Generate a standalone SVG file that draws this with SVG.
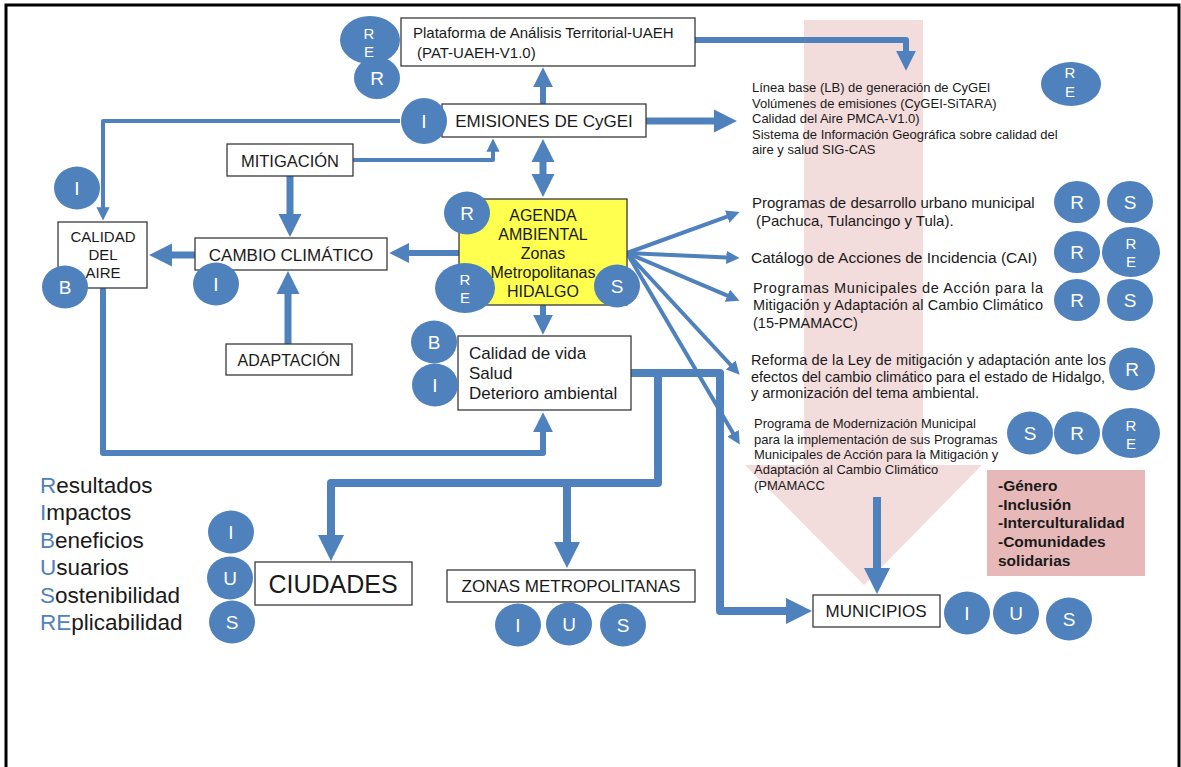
<svg xmlns="http://www.w3.org/2000/svg" width="1181" height="767" viewBox="0 0 1181 767">
<defs>
<marker id="ah" viewBox="0 0 10 10" refX="0.5" refY="5" markerWidth="3.3" markerHeight="3.3" orient="auto-start-reverse" markerUnits="strokeWidth"><path d="M0,0 L10,5 L0,10 z" fill="#4f81bd"/></marker>
<style>
text{font-family:"Liberation Sans",Arial,sans-serif;fill:#1a1a1a}
.box{fill:#fff;stroke:#3a3a3a;stroke-width:1.3}
.c{fill:#4f81bd}
.cl{fill:#fff;font-size:19px;text-anchor:middle}
.cs{fill:#fff;font-size:15px;text-anchor:middle}
.ln{fill:none;stroke:#4f81bd;stroke-linejoin:round;marker-end:url(#ah)}
.w4{stroke-width:4}.w6{stroke-width:6}.w7{stroke-width:7}.w8{stroke-width:8}
.mid{text-anchor:middle}
.b{fill:#4f81bd}
</style>
</defs>
<rect width="1181" height="767" fill="#fff"/>
<rect x="6" y="5" width="1173" height="775" fill="none" stroke="#000" stroke-width="3"/>
<polygon id="bigArrow" points="804,20 923,20 923,465 982,465 864,585 745,465 804,465" fill="#f3dcdc"/>

<g id="connectors">
<path class="ln w6" d="M694,40 H906 V52"/>
<path class="ln w6" d="M543,104 V86"/>
<path class="ln w7" d="M646,121 H715"/>
<path class="ln w7" d="M543,161 V175" style="marker-start:url(#ah)"/>
<path class="ln w4" d="M400,121 H103 V208"/>
<path class="ln w4" d="M353,160 H493 V151"/>
<path class="ln w7" d="M290,176 V215"/>
<path class="ln w7" d="M288,344 V293"/>
<path class="ln w7" d="M195,255 H171"/>
<path class="ln w6" d="M459,253 H408"/>
<path class="ln w6" d="M543,305 V316"/>
<path class="ln w6" d="M103,288 V453 H543 V431"/>
<path class="ln w4" d="M627,253 L727.8,216.4"/>
<path class="ln w4" d="M627,253 L727,257.4"/>
<path class="ln w4" d="M627,253 L728,295.9"/>
<path class="ln w4" d="M627,253 L731.2,365.5"/>
<path class="ln w4" d="M627,253 L733.4,433.8"/>
<path class="ln w8" d="M631,373 H720 V611 H787"/>
<path class="ln w8" d="M658,373 V483 H331 V536"/>
<path class="ln w8" d="M567,483 V543"/>
<path class="ln w8" d="M877,497 V569"/>
</g>

<g id="pat">
<rect class="box" x="401" y="18" width="294" height="48"/>
<text x="413" y="38" font-size="15">Plataforma de Análisis Territorial-UAEH</text>
<text x="417" y="58" font-size="15">(PAT-UAEH-V1.0)</text>
</g>
<g id="emisiones">
<rect class="box" x="442" y="104" width="204" height="33"/>
<text x="544" y="127" font-size="17" class="mid">EMISIONES DE CyGEI</text>
</g>
<g id="mitigacion">
<rect class="box" x="227" y="144" width="126" height="32"/>
<text x="290" y="167" font-size="16.5" class="mid">MITIGACIÓN</text>
</g>
<g id="cambio">
<rect class="box" x="195" y="238" width="192" height="32"/>
<text x="291" y="261" font-size="17" class="mid">CAMBIO CLIMÁTICO</text>
</g>
<g id="adaptacion">
<rect class="box" x="226" y="344" width="126" height="31"/>
<text x="289" y="366" font-size="16" class="mid">ADAPTACIÓN</text>
</g>
<g id="calidadAire">
<rect class="box" x="58" y="222" width="89" height="66"/>
<text x="103" y="242" font-size="15" class="mid">CALIDAD</text>
<text x="103" y="260" font-size="15" class="mid">DEL</text>
<text x="103" y="278" font-size="15" class="mid">AIRE</text>
</g>
<g id="agenda">
<rect x="459" y="199" width="168" height="106" fill="#ffff4f" stroke="#3a3a3a" stroke-width="1.3"/>
<text x="543" y="221" font-size="16" class="mid">AGENDA</text>
<text x="543" y="240" font-size="16" class="mid">AMBIENTAL</text>
<text x="543" y="259" font-size="16" class="mid">Zonas</text>
<text x="543" y="278" font-size="16" class="mid">Metropolitanas</text>
<text x="543" y="297" font-size="16" class="mid">HIDALGO</text>
</g>
<g id="calidadVida">
<rect class="box" x="458" y="336" width="173" height="74"/>
<text x="469" y="359" font-size="17">Calidad de vida</text>
<text x="469" y="379" font-size="17">Salud</text>
<text x="469" y="399" font-size="17">Deterioro ambiental</text>
</g>
<g id="ciudades">
<rect class="box" x="255" y="562" width="157" height="43"/>
<text x="333" y="593" font-size="25" class="mid">CIUDADES</text>
</g>
<g id="zonas">
<rect class="box" x="447" y="570" width="248" height="32"/>
<text x="571" y="592" font-size="17" class="mid">ZONAS METROPOLITANAS</text>
</g>
<g id="municipios">
<rect class="box" x="813" y="595" width="127" height="32"/>
<text x="876" y="617" font-size="17" class="mid">MUNICIPIOS</text>
</g>

<g id="resultadosTop">
<text x="752" y="92" font-size="13">Línea base (LB) de generación de CyGEI</text>
<text x="752" y="107.5" font-size="13">Volúmenes de emisiones (CyGEI-SiTARA)</text>
<text x="752" y="123" font-size="13">Calidad del Aire PMCA-V1.0)</text>
<text x="752" y="139" font-size="13">Sistema de Información Geográfica sobre calidad del</text>
<text x="752" y="154" font-size="13">aire y salud SIG-CAS</text>
</g>
<g id="programasUrbanos">
<text x="752" y="208" font-size="15">Programas de desarrollo urbano municipal</text>
<text x="756" y="226" font-size="15">(Pachuca, Tulancingo y Tula).</text>
</g>
<g id="cai">
<text x="751" y="263" font-size="15.5">Catálogo de Acciones de Incidencia (CAI)</text>
</g>
<g id="pmamacc">
<text x="753" y="293" font-size="14.5" textLength="290" lengthAdjust="spacing">Programas Municipales de Acción para la</text>
<text x="753" y="310" font-size="14.5" textLength="290" lengthAdjust="spacing">Mitigación y Adaptación al Cambio Climático</text>
<text x="753" y="328" font-size="14.5">(15-PMAMACC)</text>
</g>
<g id="reforma">
<text x="751" y="365" font-size="14.5" textLength="355" lengthAdjust="spacing">Reforma de la Ley de mitigación y adaptación ante los</text>
<text x="751" y="382" font-size="14.5" textLength="354" lengthAdjust="spacing">efectos del cambio climático para el estado de Hidalgo,</text>
<text x="751" y="398" font-size="14.5">y armonización del tema ambiental.</text>
</g>
<g id="modernizacion">
<text x="754" y="428" font-size="13">Programa de Modernización Municipal</text>
<text x="754" y="443.5" font-size="13">para la implementación de sus Programas</text>
<text x="754" y="459" font-size="13">Municipales de Acción para la Mitigación y</text>
<text x="754" y="474" font-size="13">Adaptación al Cambio Climático</text>
<text x="754" y="489.5" font-size="13">(PMAMACC</text>
</g>
<g id="enfoques">
<rect x="987" y="470" width="158" height="106" fill="#e6b9b8"/>
<text x="998" y="491" font-size="15.5" font-weight="bold">-Género</text>
<text x="998" y="509.5" font-size="15.5" font-weight="bold">-Inclusión</text>
<text x="998" y="528" font-size="15.5" font-weight="bold">-Interculturalidad</text>
<text x="998" y="547" font-size="15.5" font-weight="bold">-Comunidades</text>
<text x="998" y="566" font-size="15.5" font-weight="bold">solidarias</text>
</g>
<g id="leyenda" font-size="22.5">
<text x="40" y="493" font-size="22.5"><tspan class="b">R</tspan>esultados</text>
<text x="40" y="520" font-size="22.5"><tspan class="b">I</tspan>mpactos</text>
<text x="40" y="548" font-size="22.5"><tspan class="b">B</tspan>eneficios</text>
<text x="40" y="575" font-size="22.5"><tspan class="b">U</tspan>suarios</text>
<text x="40" y="603" font-size="22.5"><tspan class="b">S</tspan>ostenibilidad</text>
<text x="40" y="630" font-size="22.5"><tspan class="b">RE</tspan>plicabilidad</text>
</g>

<g id="badges">
<g id="b-pat-r"><ellipse class="c" cx="377" cy="78" rx="23" ry="21"/><text class="cl" x="377" y="85">R</text></g>
<g id="b-pat-re"><ellipse class="c" cx="370" cy="40" rx="30" ry="24"/><text class="cs" x="369" y="39">R</text><text class="cs" x="369" y="57">E</text></g>
<g id="b-emis-i"><ellipse class="c" cx="424" cy="121" rx="23" ry="23"/><text class="cl" x="424" y="128">I</text></g>
<g id="b-top-re"><ellipse class="c" cx="1071" cy="84" rx="30" ry="22"/><text class="cs" x="1070" y="78">R</text><text class="cs" x="1070" y="97">E</text></g>
<g id="b-aire-i"><ellipse class="c" cx="77" cy="188" rx="23" ry="21.5"/><text class="cl" x="77" y="195">I</text></g>
<g id="b-aire-b"><ellipse class="c" cx="65" cy="287" rx="23" ry="21.5"/><text class="cl" x="65" y="294">B</text></g>
<g id="b-cambio-i"><ellipse class="c" cx="216" cy="284" rx="23" ry="21.5"/><text class="cl" x="216" y="291">I</text></g>
<g id="b-ag-r"><ellipse class="c" cx="467" cy="213" rx="23" ry="21.5"/><text class="cl" x="467" y="220">R</text></g>
<g id="b-ag-re"><ellipse class="c" cx="465" cy="288" rx="30" ry="25"/><text class="cs" x="465" y="285">R</text><text class="cs" x="465" y="303">E</text></g>
<g id="b-ag-s"><ellipse class="c" cx="617" cy="286" rx="23" ry="21.5"/><text class="cl" x="617" y="293">S</text></g>
<g id="b-cv-b"><ellipse class="c" cx="434" cy="342" rx="23" ry="21.5"/><text class="cl" x="434" y="349">B</text></g>
<g id="b-cv-i"><ellipse class="c" cx="435" cy="385" rx="23" ry="21.5"/><text class="cl" x="435" y="392">I</text></g>
<g id="b-pu-r"><ellipse class="c" cx="1077" cy="202" rx="23" ry="21"/><text class="cl" x="1077" y="209">R</text></g>
<g id="b-pu-s"><ellipse class="c" cx="1130" cy="202" rx="23" ry="21"/><text class="cl" x="1130" y="209">S</text></g>
<g id="b-cai-r"><ellipse class="c" cx="1077" cy="252" rx="23" ry="21"/><text class="cl" x="1077" y="259">R</text></g>
<g id="b-cai-re"><ellipse class="c" cx="1131" cy="252" rx="29" ry="25"/><text class="cs" x="1131" y="248.5">R</text><text class="cs" x="1131" y="266.5">E</text></g>
<g id="b-pm-r"><ellipse class="c" cx="1077" cy="300" rx="23" ry="21"/><text class="cl" x="1077" y="307">R</text></g>
<g id="b-pm-s"><ellipse class="c" cx="1130" cy="300" rx="23" ry="21"/><text class="cl" x="1130" y="307">S</text></g>
<g id="b-ref-r"><ellipse class="c" cx="1132" cy="369" rx="23" ry="21.5"/><text class="cl" x="1132" y="376">R</text></g>
<g id="b-mod-s"><ellipse class="c" cx="1030" cy="433" rx="23" ry="21.5"/><text class="cl" x="1030" y="440">S</text></g>
<g id="b-mod-r"><ellipse class="c" cx="1077" cy="433" rx="23" ry="21.5"/><text class="cl" x="1077" y="440">R</text></g>
<g id="b-mod-re"><ellipse class="c" cx="1131" cy="433" rx="29" ry="25"/><text class="cs" x="1131" y="430.5">R</text><text class="cs" x="1131" y="448.5">E</text></g>
<g id="b-ci-i"><ellipse class="c" cx="231" cy="532" rx="23" ry="21.5"/><text class="cl" x="231" y="539">I</text></g>
<g id="b-ci-u"><ellipse class="c" cx="230" cy="578" rx="23" ry="21.5"/><text class="cl" x="230" y="585">U</text></g>
<g id="b-ci-s"><ellipse class="c" cx="232" cy="622" rx="23" ry="21.5"/><text class="cl" x="232" y="629">S</text></g>
<g id="b-zm-i"><ellipse class="c" cx="518" cy="625" rx="23" ry="21.5"/><text class="cl" x="518" y="632">I</text></g>
<g id="b-zm-u"><ellipse class="c" cx="569" cy="624" rx="23" ry="21.5"/><text class="cl" x="569" y="631">U</text></g>
<g id="b-zm-s"><ellipse class="c" cx="623" cy="625" rx="23" ry="21.5"/><text class="cl" x="623" y="632">S</text></g>
<g id="b-mu-i"><ellipse class="c" cx="967" cy="613" rx="23" ry="21.5"/><text class="cl" x="967" y="620">I</text></g>
<g id="b-mu-u"><ellipse class="c" cx="1016" cy="613" rx="23" ry="21.5"/><text class="cl" x="1016" y="620">U</text></g>
<g id="b-mu-s"><ellipse class="c" cx="1069" cy="619" rx="23" ry="21.5"/><text class="cl" x="1069" y="626">S</text></g>
</g>
</svg>
